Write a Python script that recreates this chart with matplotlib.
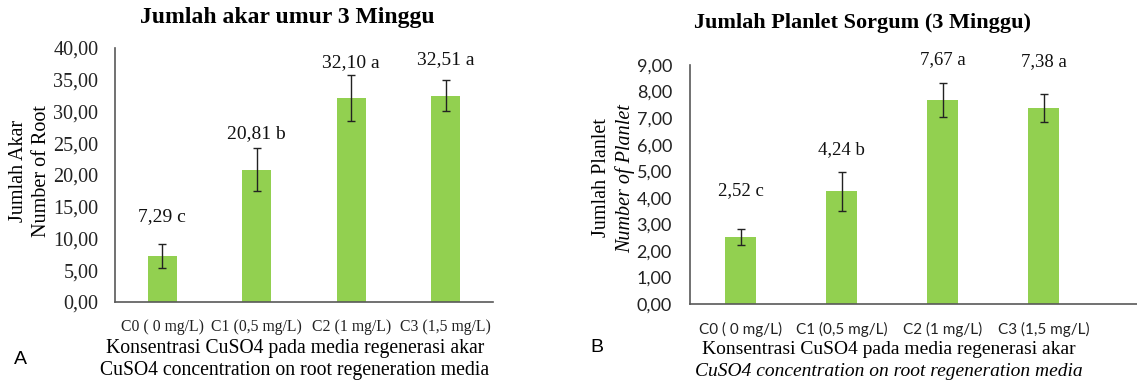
import matplotlib
matplotlib.use("Agg")
import matplotlib.pyplot as plt

# ---- data ----
categories = ["C0 ( 0 mg/L)", "C1 (0,5 mg/L)", "C2 (1 mg/L)", "C3 (1,5 mg/L)"]

root_mean = [7.29, 20.81, 32.10, 32.51]
root_err = [1.9, 3.4, 3.6, 2.5]
root_group = ["c", "b", "a", "a"]
root_ticks = [0, 5, 10, 15, 20, 25, 30, 35, 40]

planlet_mean = [2.52, 4.24, 7.67, 7.38]
planlet_err = [0.29, 0.74, 0.64, 0.53]
planlet_group = ["c", "b", "a", "a"]
planlet_ticks = [0, 1, 2, 3, 4, 5, 6, 7, 8, 9]

# ---- style ----
W, H = 1137, 385
GREEN = "#92D050"
SPINE = "#595959"
SERIF = "Liberation Serif"
SANS = "Lato"


def fx(px):
    return px / W


def fy(py):
    return 1 - py / H


def fmt(v):
    return f"{v:.2f}".replace(".", ",")


fig = plt.figure(figsize=(W / 100, H / 100), dpi=100)

# Panel A
ax1 = fig.add_axes([fx(115), fy(302), fx(493 - 115), (302 - 48) / H])
# Panel B (plot area runs past the right edge of the figure)
ax2 = fig.add_axes([fx(690), fy(304), fx(1137 - 690), (304 - 65) / H])


def draw_panel(ax, means, errs, groups, ticks, xmax, label_off_px, label_size,
               tick_family, tick_size, tick_pad, xt_family, xt_size, xt_pad):
    x = list(range(len(means)))
    ax.bar(x, means, width=0.31, color=GREEN, zorder=2)
    ax.errorbar(x, means, yerr=errs, fmt="none", ecolor="#222222",
                elinewidth=1.0, capsize=3, capthick=1.0, zorder=3)
    for xi, m, e, g, off in zip(x, means, errs, groups, label_off_px):
        ax.annotate(f"{fmt(m)} {g}", (xi, m + e), xytext=(0, off * 0.72),
                    textcoords="offset points", ha="center", va="center",
                    family=SERIF, fontsize=label_size, color="#111111",
                    annotation_clip=False)
    ax.set_xlim(-0.5, xmax)
    ax.set_ylim(ticks[0], ticks[-1])
    ax.set_yticks(ticks)
    ax.set_yticklabels([fmt(t) for t in ticks], family=tick_family,
                       fontsize=tick_size, color="#222222")
    ax.set_xticks(x)
    ax.set_xticklabels(categories, family=xt_family, fontsize=xt_size,
                       color="#222222")
    ax.tick_params(axis="both", length=0)
    ax.tick_params(axis="y", pad=tick_pad)
    ax.tick_params(axis="x", pad=xt_pad)
    for s in ("top", "right"):
        ax.spines[s].set_visible(False)
    for s in ("left", "bottom"):
        ax.spines[s].set_color(SPINE)
        ax.spines[s].set_linewidth(1.2)
    ax.set_facecolor("none")


draw_panel(ax1, root_mean, root_err, root_group, root_ticks, 3.5,
           [27, 15, 13, 20], 14, SERIF, 14.5, 12, SERIF, 11.3, 12)
draw_panel(ax2, planlet_mean, planlet_err, planlet_group, planlet_ticks,
           (1137 - 690) / 101 - 0.5, [39, 22, 24, 32], 13.5,
           SANS, 13, 13, SANS, 11, 13)

# titles
fig.text(fx(287), fy(18), "Jumlah akar umur 3 Minggu", ha="center",
         va="center", family=SERIF, fontsize=17, fontweight="bold")
fig.text(fx(863), fy(23), "Jumlah Planlet Sorgum (3 Minggu)", ha="center",
         va="center", family=SERIF, fontsize=16, fontweight="bold")

# y-axis titles
fig.text(fx(19), fy(171), "Jumlah Akar", rotation=90, ha="center",
         va="center", family=SERIF, fontsize=14.5)
fig.text(fx(41), fy(171), "Number of Root", rotation=90, ha="center",
         va="center", family=SERIF, fontsize=14.5)
fig.text(fx(601), fy(178), "Jumlah Planlet", rotation=90, ha="center",
         va="center", family=SERIF, fontsize=14.5)
fig.text(fx(625), fy(179), "Number of Planlet", rotation=90, ha="center",
         va="center", family=SERIF, fontsize=14.5, style="italic")

# x-axis titles
fig.text(fx(295), fy(349), "Konsentrasi CuSO4 pada media regenerasi akar",
         ha="center", va="center", family=SERIF, fontsize=14.2)
fig.text(fx(295), fy(371), "CuSO4 concentration on root regeneration media",
         ha="center", va="center", family=SERIF, fontsize=14.2)
fig.text(fx(889), fy(350), "Konsentrasi CuSO4 pada media regenerasi akar",
         ha="center", va="center", family=SERIF, fontsize=14)
fig.text(fx(889), fy(372), "CuSO4 concentration on root regeneration media",
         ha="center", va="center", family=SERIF, fontsize=14, style="italic")

# panel letters
fig.text(fx(20), fy(359), "A", ha="center", va="center",
         family="Liberation Sans", fontsize=14)
fig.text(fx(597), fy(348), "B", ha="center", va="center",
         family="Liberation Sans", fontsize=14)

fig.savefig("out.png", dpi=100, facecolor="white")
